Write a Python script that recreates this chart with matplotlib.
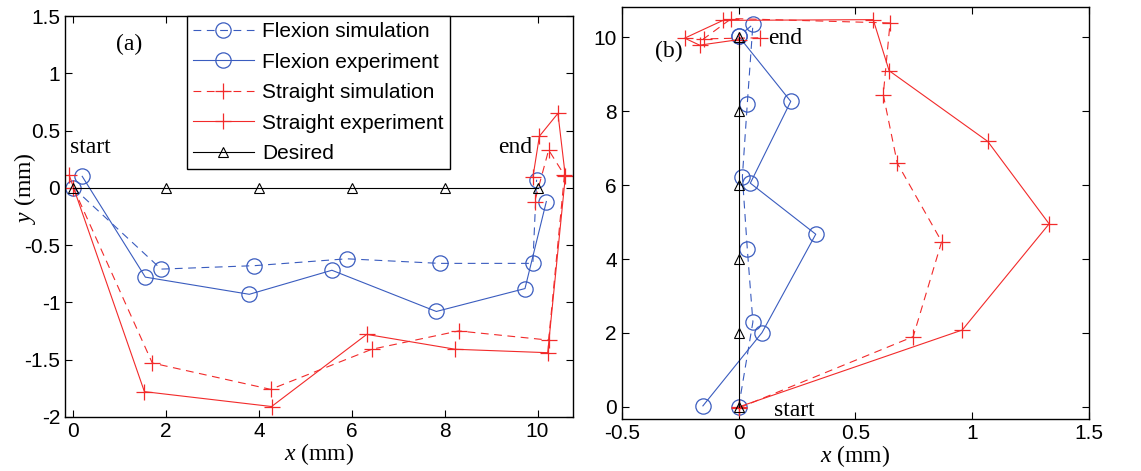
import matplotlib
matplotlib.use("Agg")
import matplotlib.pyplot as plt

plt.rcParams['font.family'] = ['Liberation Sans', 'DejaVu Sans']
plt.rcParams['mathtext.fontset'] = 'custom'
plt.rcParams['mathtext.it'] = 'Liberation Serif:italic'
plt.rcParams['mathtext.rm'] = 'Liberation Serif'

BLUE = '#3a5cbf'
RED = '#f22a2a'
SERIF = 'Liberation Serif'

# ---- panel (a): flexion / straight trajectories, x-direction ----
a_flex_sim_x = [0.0, 1.89, 3.90, 5.89, 7.89, 9.90, 9.98]
a_flex_sim_y = [0.0, -0.71, -0.68, -0.62, -0.66, -0.66, 0.07]
a_flex_exp_x = [0.19, 1.55, 3.79, 5.57, 7.82, 9.73, 10.19]
a_flex_exp_y = [0.10, -0.78, -0.93, -0.72, -1.08, -0.88, -0.12]
a_str_sim_x = [0.0, 1.70, 4.25, 6.43, 8.30, 10.24, 10.58, 10.24, 9.94]
a_str_sim_y = [0.0, -1.53, -1.76, -1.41, -1.25, -1.33, 0.11, 0.33, -0.12]
a_str_exp_x = [-0.09, 1.53, 4.27, 6.32, 8.23, 10.22, 10.60, 10.44, 10.04, 9.90]
a_str_exp_y = [0.11, -1.78, -1.91, -1.28, -1.41, -1.44, 0.10, 0.65, 0.45, 0.09]
a_des_x = [0, 2, 4, 6, 8, 10]
a_des_y = [0, 0, 0, 0, 0, 0]

# ---- panel (b): y-direction ----
b_flex_sim_x = [0.0, 0.061, 0.037, 0.016, 0.037, 0.061, 0.0]
b_flex_sim_y = [0.0, 2.30, 4.27, 6.23, 8.20, 10.34, 10.02]
b_flex_exp_x = [-0.153, 0.10, 0.33, 0.05, 0.223, 0.0]
b_flex_exp_y = [0.03, 2.01, 4.67, 6.05, 8.26, 10.02]
b_str_sim_x = [0.0, 0.747, 0.869, 0.679, 0.619, 0.648, -0.031, -0.15, 0.09]
b_str_sim_y = [-0.03, 1.90, 4.47, 6.59, 8.44, 10.38, 10.50, 9.95, 9.98]
b_str_exp_x = [0.0, 0.957, 1.329, 1.066, 0.644, 0.576, -0.067, -0.231, -0.167, 0.0]
b_str_exp_y = [0.0, 2.08, 4.95, 7.18, 9.09, 10.47, 10.45, 9.97, 9.78, 9.93]
b_des_x = [0, 0, 0, 0, 0, 0]
b_des_y = [0, 2, 4, 6, 8, 10]

labels = ['Flexion simulation', 'Flexion experiment', 'Straight simulation',
          'Straight experiment', 'Desired']

fig = plt.figure(figsize=(11.41, 4.71), dpi=100)
ax1 = fig.add_axes([0.057, 0.115, 0.445, 0.851])
ax2 = fig.add_axes([0.545, 0.110, 0.4095, 0.875])


def draw(ax, fs, fe, ss, se, de):
    lw = 0.8
    ax.plot(*fs, color=BLUE, lw=lw, dashes=(7, 5), marker='o', ms=11,
            mfc='none', mec=BLUE, mew=0.9)
    ax.plot(*fe, '-', color=BLUE, lw=lw, marker='o', ms=11, mfc='none', mec=BLUE, mew=0.9)
    ax.plot(*ss, color=RED, lw=lw, dashes=(7, 5), marker='+', ms=11, mew=0.9)
    ax.plot(*se, '-', color=RED, lw=lw, marker='+', ms=11, mew=0.9)
    ax.plot(*de, '-', color='black', lw=lw, marker='^', ms=7, mfc='none', mec='black', mew=0.8)
    ax.tick_params(direction='in', top=True, right=True, labelsize=15, length=5)
    for s in ax.spines.values():
        s.set_linewidth(1.0)


draw(ax1, (a_flex_sim_x, a_flex_sim_y), (a_flex_exp_x, a_flex_exp_y),
     (a_str_sim_x, a_str_sim_y), (a_str_exp_x, a_str_exp_y), (a_des_x, a_des_y))
ax1.set_xlim(-0.18, 10.76)
ax1.set_ylim(-2, 1.5)
ax1.set_xticks([0, 2, 4, 6, 8, 10])
ax1.set_yticks([-2, -1.5, -1, -0.5, 0, 0.5, 1, 1.5])
ax1.set_yticklabels(['-2', '-1.5', '-1', '-0.5', '0', '0.5', '1', '1.5'])
ax1.set_xlabel('$x$ (mm)', fontsize=17, family=SERIF, labelpad=0)
ax1.set_ylabel('$y$ (mm)', fontsize=17, family=SERIF)
ax1.yaxis.set_label_coords(-0.053, 0.57)
ax1.text(1.2, 1.25, '(a)', family=SERIF, fontsize=17, ha='center', va='center')
ax1.text(-0.08, 0.35, 'start', family=SERIF, fontsize=17, ha='left', va='center')
ax1.text(9.15, 0.35, 'end', family=SERIF, fontsize=17, ha='left', va='center')
leg = ax1.legend(labels, loc='upper left', bbox_to_anchor=(0.24, 1.0), borderaxespad=0,
                 fontsize=15, numpoints=1, handlelength=2.9, labelspacing=0.55,
                 handletextpad=0.4, borderpad=0.3, fancybox=False, framealpha=1)
leg.get_frame().set_edgecolor('black')
leg.get_frame().set_linewidth(1.0)

draw(ax2, (b_flex_sim_x, b_flex_sim_y), (b_flex_exp_x, b_flex_exp_y),
     (b_str_sim_x, b_str_sim_y), (b_str_exp_x, b_str_exp_y), (b_des_x, b_des_y))
ax2.set_xlim(-0.5, 1.5)
ax2.set_ylim(-0.33, 10.81)
ax2.set_xticks([-0.5, 0, 0.5, 1, 1.5])
ax2.set_xticklabels(['-0.5', '0', '0.5', '1', '1.5'])
ax2.set_yticks([0, 2, 4, 6, 8, 10])
ax2.set_xlabel('$x$ (mm)', fontsize=17, family=SERIF, labelpad=0)
ax2.text(-0.3, 9.6, '(b)', family=SERIF, fontsize=17, ha='center', va='center')
ax2.text(0.2, 9.95, 'end', family=SERIF, fontsize=17, ha='center', va='center')
ax2.text(0.24, -0.1, 'start', family=SERIF, fontsize=17, ha='center', va='center')

fig.savefig('out.png', dpi=100)
